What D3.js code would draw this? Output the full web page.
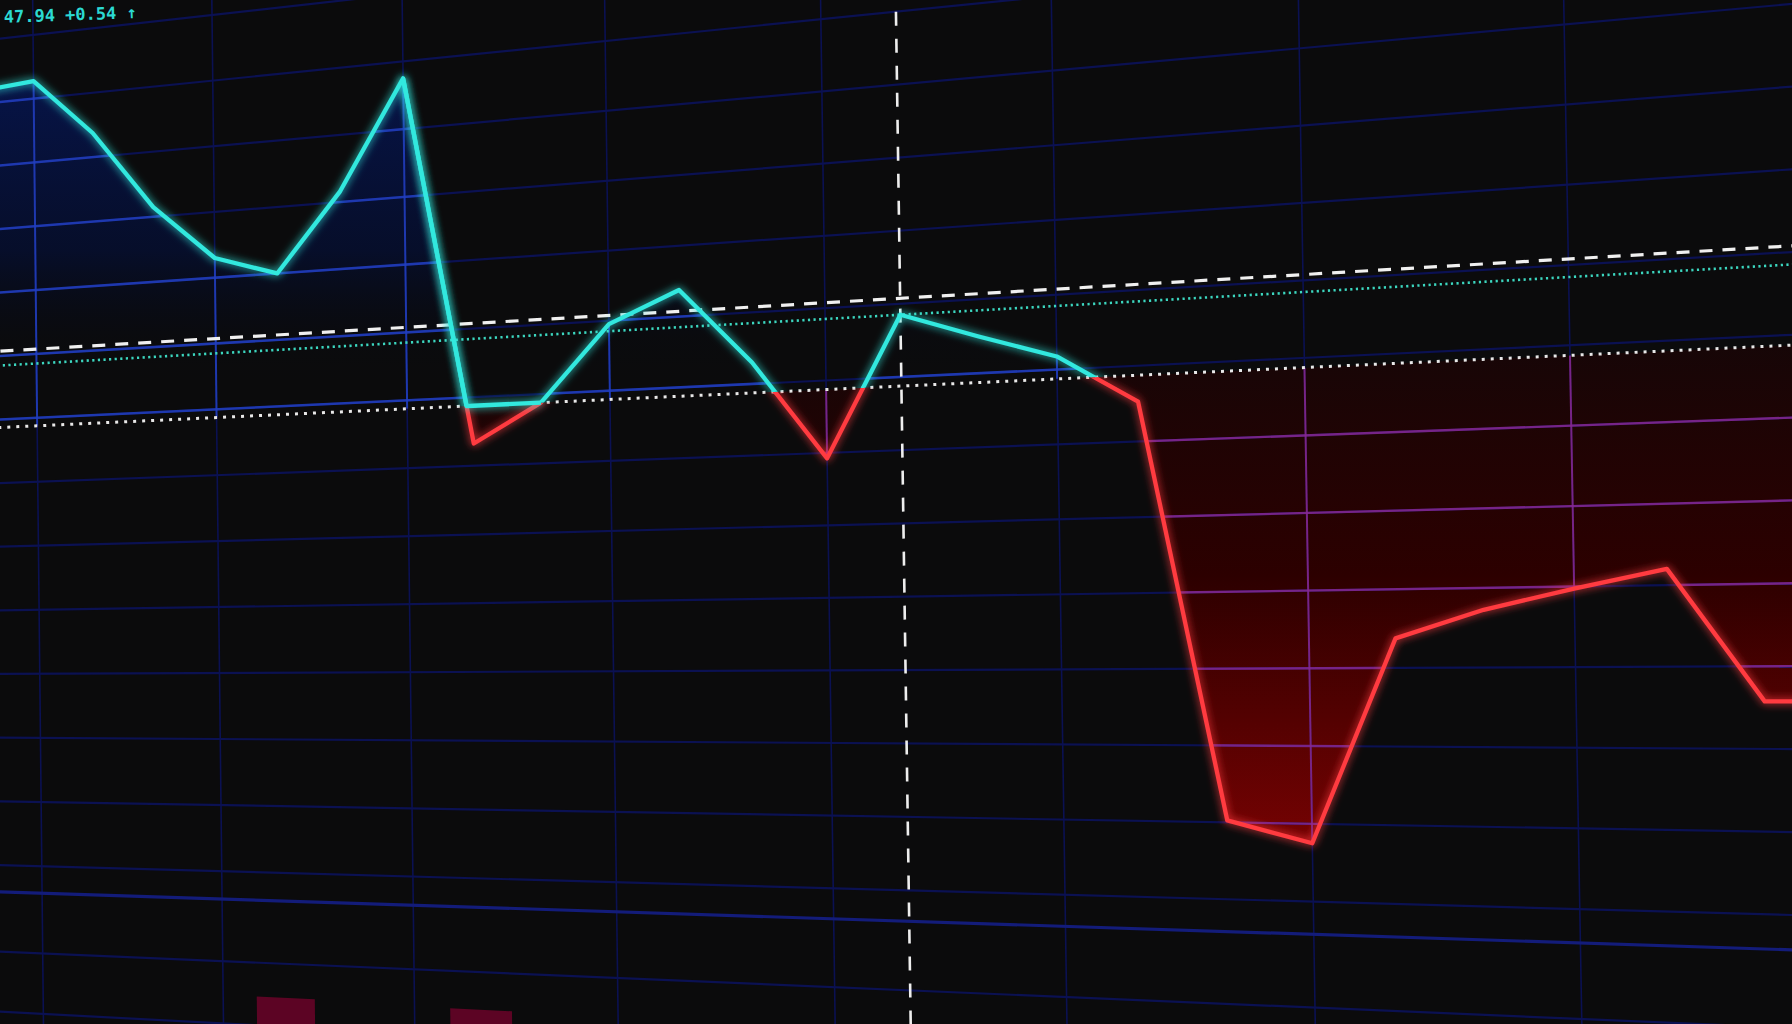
<!DOCTYPE html>
<html>
<head>
<meta charset="utf-8">
<script src="https://cdn.jsdelivr.net/npm/d3@7"></script>
<style>
  html, body { margin: 0; padding: 0; background: #0b0b0c; overflow: hidden; }
  svg { display: block; }
</style>
</head>
<body>
<svg id="chart" width="1792" height="1024"></svg>
<script>
// ---------------- DATA ----------------
const periods = [0, 1, 2, 3, 4, 5, 6, 7, 8, 9, 10, 11, 12, 13, 14, 15, 16, 17, 18, 19, 20, 21, 22, 23, 24, 25];
const closes  = [49.68, 49.71, 49.35, 48.86, 48.52, 48.40, 48.86, 49.50, 47.33, 47.55, 47.98, 48.15, 47.72,
                 47.17, 47.94, 47.80, 47.67, 47.41, 45.21, 45.10, 46.15, 46.29, 46.39, 46.48, 45.83, 45.83];
const supportLevel = 47.55;      // white dotted
const lastLevel = 47.94;         // teal dotted (crosshair price)
const resistanceLevel = 48.03;   // white dashed
const crosshairPeriod = 14;
const holdRange = [7, 9];        // teal holds on the support level here
const volumePeriods = [5, 8];
const volumes = [73, 71];
const timeTicks = [-2, 1, 4, 7, 10, 13, 16, 19, 22, 25, 28];
const priceTicks = [50.8, 50.4, 50.0, 49.6, 49.2, 48.8, 48.4, 48.0, 47.6, 47.2, 46.8, 46.4, 46.0, 45.6, 45.2, 44.8];
const volumeTicks = [150, 100, 50];
const headerLabel = "47.94 +0.54 \u2191";

// ---------------- LAYOUT (perspective plane) ----------------
const W = 1792, H = 1024;
const quad = [[36.4, 353.9], [1568.4, 265.0], [1579.8, 909.1], [41.8, 866.2]];
function makeProjection(q) {
  const [[x0, y0], [x1, y1], [x2, y2], [x3, y3]] = q;
  const sx = x0 - x1 + x2 - x3, sy = y0 - y1 + y2 - y3;
  const dx1 = x1 - x2, dx2 = x3 - x2, dy1 = y1 - y2, dy2 = y3 - y2;
  const den = dx1 * dy2 - dx2 * dy1;
  const g = (sx * dy2 - dx2 * sy) / den, h = (dx1 * sy - sx * dy1) / den;
  const a = x1 - x0 + g * x1, b = x3 - x0 + h * x3, c = x0;
  const d = y1 - y0 + g * y1, e = y3 - y0 + h * y3, f = y0;
  return (s, t) => { const w = g * s + h * t + 1; return [(a * s + b * t + c) / w, (d * s + e * t + f) / w]; };
}
const proj = makeProjection(quad);

const xS = d3.scaleLinear().domain([1, 22]).range([0, 1]);
const yS = d3.scaleLinear().domain([48.0, 44.8]).range([0, 1]);
const vS = d3.scaleLinear().domain([0, 150]).range([11.24 / 8, 8.42 / 8]);
const P  = (i, p) => proj(xS(i), yS(p));
const PV = (i, v) => proj(xS(i), vS(v));
const line = d3.line();

const iMin = -6, iMax = 32;
const tTop = yS(52.0), tBottom = vS(-60);

const svg = d3.select('#chart');
const defs = svg.append('defs');

svg.append('rect').attr('width', W).attr('height', H).attr('fill', '#0b0b0c');

// gradients
const navy = defs.append('linearGradient').attr('id', 'navyGrad')
  .attr('gradientUnits', 'userSpaceOnUse').attr('x1', 0).attr('y1', 60).attr('x2', 0).attr('y2', 380);
navy.append('stop').attr('offset', '0%').attr('stop-color', '#07154c').attr('stop-opacity', 1);
navy.append('stop').attr('offset', '60%').attr('stop-color', '#050f34').attr('stop-opacity', 0.75);
navy.append('stop').attr('offset', '88%').attr('stop-color', '#050a1c').attr('stop-opacity', 0.1);
navy.append('stop').attr('offset', '100%').attr('stop-color', '#050a1c').attr('stop-opacity', 0);

const red = defs.append('linearGradient').attr('id', 'redGrad')
  .attr('gradientUnits', 'userSpaceOnUse').attr('x1', 0).attr('y1', 340).attr('x2', 0).attr('y2', 860);
red.append('stop').attr('offset', '0%').attr('stop-color', '#160607');
red.append('stop').attr('offset', '45%').attr('stop-color', '#2c0000');
red.append('stop').attr('offset', '100%').attr('stop-color', '#7a0202');

// glow
const glow = defs.append('filter').attr('id', 'glow')
  .attr('filterUnits', 'userSpaceOnUse').attr('x', -100).attr('y', -100).attr('width', W + 200).attr('height', H + 200);
glow.append('feGaussianBlur').attr('stdDeviation', 4).attr('result', 'b');
const gm = glow.append('feMerge');
gm.append('feMergeNode').attr('in', 'b');
gm.append('feMergeNode').attr('in', 'SourceGraphic');

// clip halves around support
function halfPoly(level, above) {
  const tl = yS(level);
  const t0 = above ? -2 : tl, t1 = above ? tl : 2.5;
  const s0 = xS(iMin), s1 = xS(iMax);
  return [proj(s0, t0), proj(s1, t0), proj(s1, t1), proj(s0, t1)];
}
defs.append('clipPath').attr('id', 'aboveSupport').append('path').attr('d', line(halfPoly(supportLevel, true)) + 'Z');
defs.append('clipPath').attr('id', 'belowSupport').append('path').attr('d', line(halfPoly(supportLevel, false)) + 'Z');

const pts = periods.map((i, k) => P(i, closes[k]));
const areaPoly = pts.concat([P(periods[periods.length - 1], supportLevel), P(periods[0], supportLevel)]);
defs.append('clipPath').attr('id', 'areaClip').append('path').attr('d', line(areaPoly) + 'Z');

// fills
svg.append('g').attr('clip-path', 'url(#aboveSupport)')
  .append('path').attr('d', line(areaPoly) + 'Z').attr('fill', 'url(#navyGrad)');
svg.append('g').attr('clip-path', 'url(#belowSupport)')
  .append('path').attr('d', line(areaPoly) + 'Z').attr('fill', 'url(#redGrad)');

// grid
function drawGrid(g, color, hw, vw, op, sepColor) {
  g.selectAll('path.v').data(timeTicks).join('path').attr('class', 'v')
    .attr('d', ti => line([proj(xS(ti), tTop), proj(xS(ti), tBottom)]))
    .attr('stroke', color).attr('stroke-width', vw).attr('fill', 'none').attr('opacity', op);
  g.selectAll('path.h').data(priceTicks).join('path').attr('class', 'h')
    .attr('d', p => line([P(iMin, p), P(iMax, p)]))
    .attr('stroke', color).attr('stroke-width', hw).attr('fill', 'none').attr('opacity', op);
  g.selectAll('path.vol').data(volumeTicks).join('path').attr('class', 'vol')
    .attr('d', v => line([PV(iMin, v), PV(iMax, v)]))
    .attr('stroke', (v, k) => k === 0 ? sepColor : color)
    .attr('stroke-width', (v, k) => k === 0 ? hw + 1 : hw).attr('fill', 'none').attr('opacity', op);
}
drawGrid(svg.append('g'), '#0b1152', 2.2, 1.6, 1, '#131c7a');
drawGrid(svg.append('g').attr('clip-path', 'url(#aboveSupport)').append('g').attr('clip-path', 'url(#areaClip)'),
  '#2240c0', 2.6, 2.0, 0.85, '#2240c0');
drawGrid(svg.append('g').attr('clip-path', 'url(#belowSupport)').append('g').attr('clip-path', 'url(#areaClip)'),
  '#8a2892', 2.4, 2.0, 0.85, '#8a2892');

// volume bars
svg.append('g').selectAll('path').data(volumePeriods).join('path')
  .attr('d', (i, k) => line([PV(i - 0.46, volumes[k]), PV(i + 0.46, volumes[k]), PV(i + 0.46, 0), PV(i - 0.46, 0)]) + 'Z')
  .attr('fill', '#5c0424');

// reference lines
svg.append('path').attr('d', line([P(iMin, resistanceLevel), P(iMax, resistanceLevel)]))
  .attr('stroke', '#f0f0f0').attr('stroke-width', 3.2).attr('stroke-dasharray', '13 10').attr('fill', 'none');
svg.append('path').attr('d', line([P(iMin, lastLevel), P(iMax, lastLevel)]))
  .attr('stroke', '#3cd6bf').attr('stroke-width', 2.6).attr('stroke-dasharray', '2.2 3.4').attr('fill', 'none');
svg.append('path').attr('d', line([P(iMin, supportLevel), P(iMax, supportLevel)]))
  .attr('stroke', '#e8e8e8').attr('stroke-width', 3).attr('stroke-dasharray', '3 6').attr('fill', 'none');

// crosshair
svg.append('path').attr('d', line([P(crosshairPeriod, 49.6), proj(xS(crosshairPeriod), tBottom)]))
  .attr('stroke', '#eeeeee').attr('stroke-width', 2.6).attr('stroke-dasharray', '14 13').attr('fill', 'none');

// price lines
svg.append('g').attr('clip-path', 'url(#belowSupport)').append('path')
  .attr('d', line(pts)).attr('stroke', '#ff3a40').attr('stroke-width', 4.3).attr('fill', 'none')
  .attr('stroke-linejoin', 'round').attr('filter', 'url(#glow)');
svg.append('g').attr('clip-path', 'url(#aboveSupport)').append('path')
  .attr('d', line(pts)).attr('stroke', '#30e8de').attr('stroke-width', 4.3).attr('fill', 'none')
  .attr('stroke-linejoin', 'round').attr('filter', 'url(#glow)');

function clampAbove(k0, k1, level) {
  const out = [P(periods[k0], Math.max(closes[k0], level))];
  for (let k = k0; k < k1; k++) {
    const a = closes[k], b = closes[k + 1];
    if ((a - level) * (b - level) < 0) {
      const f = (a - level) / (a - b);
      out.push(P(periods[k] + f * (periods[k + 1] - periods[k]), level));
    }
    out.push(P(periods[k + 1], Math.max(b, level)));
  }
  return out;
}
svg.append('path').attr('d', line(clampAbove(holdRange[0], holdRange[1], supportLevel)))
  .attr('stroke', '#30e8de').attr('stroke-width', 4.3).attr('fill', 'none')
  .attr('stroke-linejoin', 'round').attr('filter', 'url(#glow)');

// header label
svg.append('text').attr('x', 4).attr('y', 23)
  .attr('transform', 'rotate(-2 0 23)')
  .attr('font-family', 'DejaVu Sans Mono, monospace').attr('font-size', 17).attr('font-weight', 'bold')
  .attr('fill', '#2bd9d2').text(headerLabel);
</script>
</body>
</html>
